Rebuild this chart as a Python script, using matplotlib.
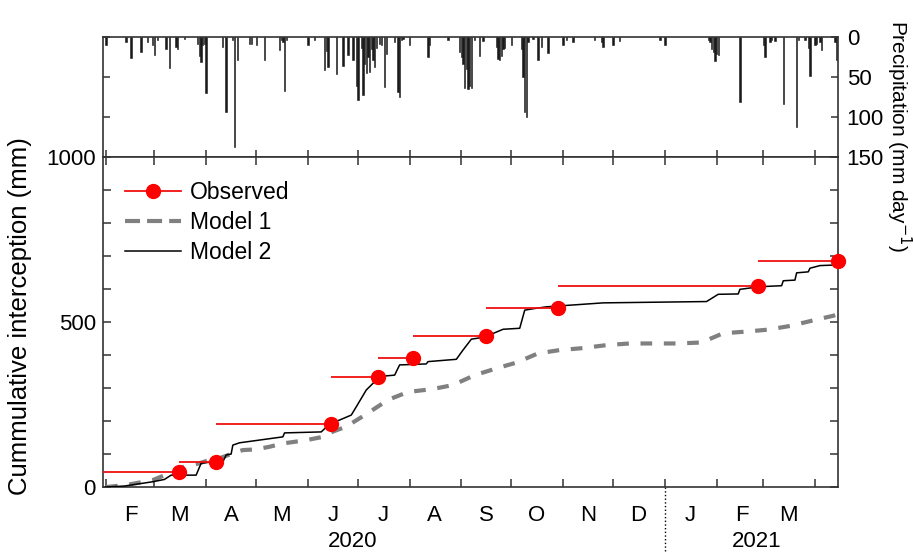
import numpy as np
import matplotlib
matplotlib.use('Agg')
import matplotlib.pyplot as plt
import matplotlib.dates as mdates
from matplotlib.ticker import MultipleLocator, FixedLocator, NullFormatter, FuncFormatter
from matplotlib.legend_handler import HandlerLine2D
from matplotlib.lines import Line2D

plt.rcParams['font.family'] = ['Liberation Sans', 'DejaVu Sans']

# 观测的累计截留量 (每个时段的起止日期)
obs_start = '2020-01-20'
obs_dates = ['2020-03-16', '2020-04-07', '2020-06-15', '2020-07-13', '2020-08-03',
             '2020-09-16', '2020-10-29', '2021-02-26', '2021-04-15']
obs_mm = [46, 75, 192, 334, 392, 458, 543, 610, 685]

# Model 1
m1_dates = ['2020-02-01', '2020-02-13', '2020-02-29', '2020-03-15', '2020-03-19', '2020-03-28',
            '2020-04-03', '2020-04-10', '2020-04-17', '2020-04-23', '2020-05-01', '2020-05-09',
            '2020-05-17', '2020-05-31', '2020-06-10', '2020-06-16', '2020-06-24', '2020-07-07',
            '2020-07-19', '2020-07-31', '2020-08-15', '2020-08-27', '2020-09-09', '2020-09-23',
            '2020-10-04', '2020-10-17', '2020-10-30', '2020-11-13', '2020-11-27', '2020-12-11',
            '2021-01-09', '2021-01-23', '2021-02-05', '2021-02-19', '2021-03-04', '2021-03-17',
            '2021-03-31', '2021-04-12', '2021-04-15']
m1_mm = [0, 6, 21, 52, 62, 72,
         82, 89, 102, 112, 114, 122,
         132, 142, 152, 168, 183, 224,
         264, 288, 297, 309, 339, 361,
         377, 405, 415, 421, 430, 435,
         435, 438, 466, 471, 477, 488,
         505, 519, 524]

# Model 2
m2_dates = ['2020-02-01', '2020-02-12', '2020-02-29', '2020-03-07', '2020-03-11', '2020-03-26',
            '2020-03-29', '2020-04-03', '2020-04-11', '2020-04-13', '2020-04-16', '2020-04-17',
            '2020-04-21', '2020-05-17', '2020-05-18', '2020-06-09', '2020-06-14', '2020-06-20',
            '2020-06-27', '2020-06-30', '2020-07-06', '2020-07-12', '2020-07-16', '2020-07-23',
            '2020-07-26', '2020-08-11', '2020-08-12', '2020-08-29', '2020-09-02', '2020-09-07',
            '2020-09-12', '2020-09-18', '2020-09-26', '2020-10-06', '2020-10-09', '2020-10-15',
            '2020-10-22', '2020-11-25', '2021-01-26', '2021-02-02', '2021-02-14', '2021-02-15',
            '2021-02-27', '2021-03-12', '2021-03-13', '2021-03-20', '2021-03-21', '2021-03-28',
            '2021-03-29', '2021-04-04', '2021-04-15']
m2_mm = [0, 3, 16, 23, 36, 36,
         72, 75, 76, 97, 100, 127,
         134, 152, 164, 167, 191, 203,
         218, 243, 294, 324, 336, 339,
         370, 373, 380, 387, 415, 448,
         452, 461, 478, 481, 536, 541,
         546, 558, 562, 584, 585, 599,
         607, 610, 625, 627, 649, 652,
         663, 671, 673]

# 日降水量, rain_day = 2020-02-01 之后的天数
rain_origin = '2020-02-01'
rain_day = [0, 12, 15, 21, 25, 28, 29, 31, 36, 38, 42, 43, 47,
            55, 56, 57, 58, 59, 60, 70, 72, 76, 77, 79, 86, 87,
            90, 95, 104, 105, 106, 107, 108, 121, 125, 131, 132, 133, 138,
            142, 145, 148, 150, 151, 153, 154, 155, 156, 157, 158, 159, 160,
            161, 162, 164, 165, 167, 168, 173, 175, 176, 177, 178, 182, 193,
            194, 205, 212, 213, 214, 215, 216, 217, 218, 219, 221, 224, 226,
            234, 235, 236, 237, 238, 239, 243, 249, 250, 251, 252, 253, 256,
            259, 261, 265, 274, 276, 280, 293, 297, 298, 304, 308, 332, 335,
            361, 362, 363, 364, 365, 366, 367, 380, 394, 395, 398, 399, 401,
            406, 414, 415, 419, 421, 422, 425, 426, 428, 429, 437, 438]
rain_mm = [10, 6, 26, 19, 6, 10, 22, 4, 15, 38, 12, 15, 2,
           9, 23, 31, 10, 8, 70, 12, 93, 4, 137, 28, 8, 8,
           10, 29, 16, 4, 6, 67, 3, 10, 4, 41, 17, 37, 46,
           36, 22, 29, 61, 79, 13, 72, 33, 45, 25, 44, 15, 29,
           37, 13, 8, 10, 62, 21, 6, 69, 75, 4, 2, 10, 25,
           10, 4, 19, 25, 33, 63, 40, 65, 61, 64, 4, 24, 5,
           12, 27, 28, 23, 15, 13, 10, 15, 50, 94, 100, 6, 2,
           28, 12, 20, 10, 3, 6, 3, 6, 12, 10, 5, 3, 10,
           4, 6, 15, 19, 30, 21, 22, 81, 10, 25, 6, 4, 5,
           83, 112, 4, 4, 13, 48, 10, 8, 6, 16, 6, 29]

x_start = np.datetime64('2020-01-30')
x_end = np.datetime64('2021-04-15')
year_break = np.datetime64('2021-01-01')
year_labels = ['2020', '2021']
year_label_dates = ['2020-06-28', '2021-02-25']

spine_col = '#333333'


class EndMarkerHandler(HandlerLine2D):
    """图例中把圆点放在线段右端"""
    def get_xdata(self, legend, xdescent, ydescent, width, height, fontsize):
        xdata, _ = super().get_xdata(legend, xdescent, ydescent, width, height, fontsize)
        return xdata, np.array([xdata[-1]])


def month_letter(x, pos):
    return mdates.num2date(x).strftime('%b')[0]


fig = plt.figure(figsize=(9.13, 5.53), dpi=100)
ax_p = fig.add_axes([0.1125, 0.7161, 0.8057, 0.2165])
ax = fig.add_axes([0.1125, 0.1193, 0.8057, 0.5968], sharex=ax_p)

# ---- 降水 ----
r_dates = np.datetime64(rain_origin) + np.array(rain_day, dtype='timedelta64[D]')
ax_p.bar(r_dates, rain_mm, width=0.8, color='#1a1a1a', edgecolor='#1a1a1a', linewidth=0.4)
ax_p.set_ylim(150, 0)
ax_p.yaxis.set_major_locator(FixedLocator([0, 50, 100, 150]))
ax_p.yaxis.tick_right()
ax_p.tick_params(axis='y', which='both', left=True, right=True, labelleft=False,
                 labelright=True, direction='in', length=5, width=1.1, color=spine_col,
                 labelsize=16, pad=6)
ax_p.tick_params(axis='x', which='major', direction='in', length=5, width=1.1,
                 color=spine_col, labelbottom=False)
ax_p.tick_params(axis='x', which='minor', length=0, labelbottom=False)

# ---- 累计截留 ----
ax.plot(np.array(m1_dates, dtype='datetime64[D]'), m1_mm, color='#808080', lw=3,
        dashes=(2.8, 2.8), zorder=2)
ax.plot(np.array(m2_dates, dtype='datetime64[D]'), m2_mm, color='black', lw=1.1, zorder=3)
seg_start = np.array([obs_start] + obs_dates[:-1], dtype='datetime64[D]')
seg_end = np.array(obs_dates, dtype='datetime64[D]')
ax.hlines(obs_mm, seg_start, seg_end, color='#f01010', lw=1.3, zorder=4)
ax.plot(seg_end, obs_mm, 'o', color='red', ms=10, zorder=5, clip_on=False)

ax.set_xlim(x_start, x_end)
ax.set_ylim(0, 1000)
ax.yaxis.set_major_locator(FixedLocator([0, 500, 1000]))
ax.yaxis.set_minor_locator(MultipleLocator(100))
ax.tick_params(axis='y', which='both', left=True, right=True, direction='in', length=6,
               width=1.1, color=spine_col, labelsize=16, pad=5)

ax.xaxis.set_major_locator(mdates.MonthLocator())
ax.xaxis.set_major_formatter(NullFormatter())
ax.xaxis.set_minor_locator(mdates.MonthLocator(bymonthday=16))
ax.xaxis.set_minor_formatter(FuncFormatter(month_letter))
ax.tick_params(axis='x', which='major', top=True, bottom=True, direction='in', length=6,
               width=1.1, color=spine_col)
ax.tick_params(axis='x', which='minor', length=0, labelsize=16, pad=13)

for a in (ax, ax_p):
    for s in a.spines.values():
        s.set_color(spine_col)
        s.set_linewidth(1.2)

# 年份标注和年份分隔线
for lab, d in zip(year_labels, year_label_dates):
    ax.text(np.datetime64(d), -0.165, lab, transform=ax.get_xaxis_transform(),
            ha='center', va='center', fontsize=16)
ax.plot([year_break, year_break], [0, -0.21], transform=ax.get_xaxis_transform(),
        color='black', lw=1, ls=':', clip_on=False)

fig.text(20 / 913, 1 - 316 / 553, 'Cummulative interception (mm)', rotation=90,
         ha='center', va='center', fontsize=18.5)
fig.text(899 / 913, 1 - 136 / 553, 'Precipitation (mm day$^{-1}$)', rotation=270,
         ha='center', va='center', fontsize=15)

# 图例
h_obs = Line2D([], [], color='#f01010', lw=1.3, marker='o', ms=10,
               markerfacecolor='red', markeredgecolor='red')
h_m1 = Line2D([], [], color='#808080', lw=3, dashes=(3.6, 1.7))
h_m2 = Line2D([], [], color='black', lw=1.1)
ax.legend([h_obs, h_m1, h_m2], ['Observed', 'Model 1', 'Model 2'], loc='upper left',
          bbox_to_anchor=(0.03, 0.927), frameon=False, fontsize=16.5, handlelength=2.45,
          handletextpad=0.4, labelspacing=0.3, borderpad=0, borderaxespad=0,
          handler_map={h_obs: EndMarkerHandler()})

fig.savefig('out.png', dpi=100)
